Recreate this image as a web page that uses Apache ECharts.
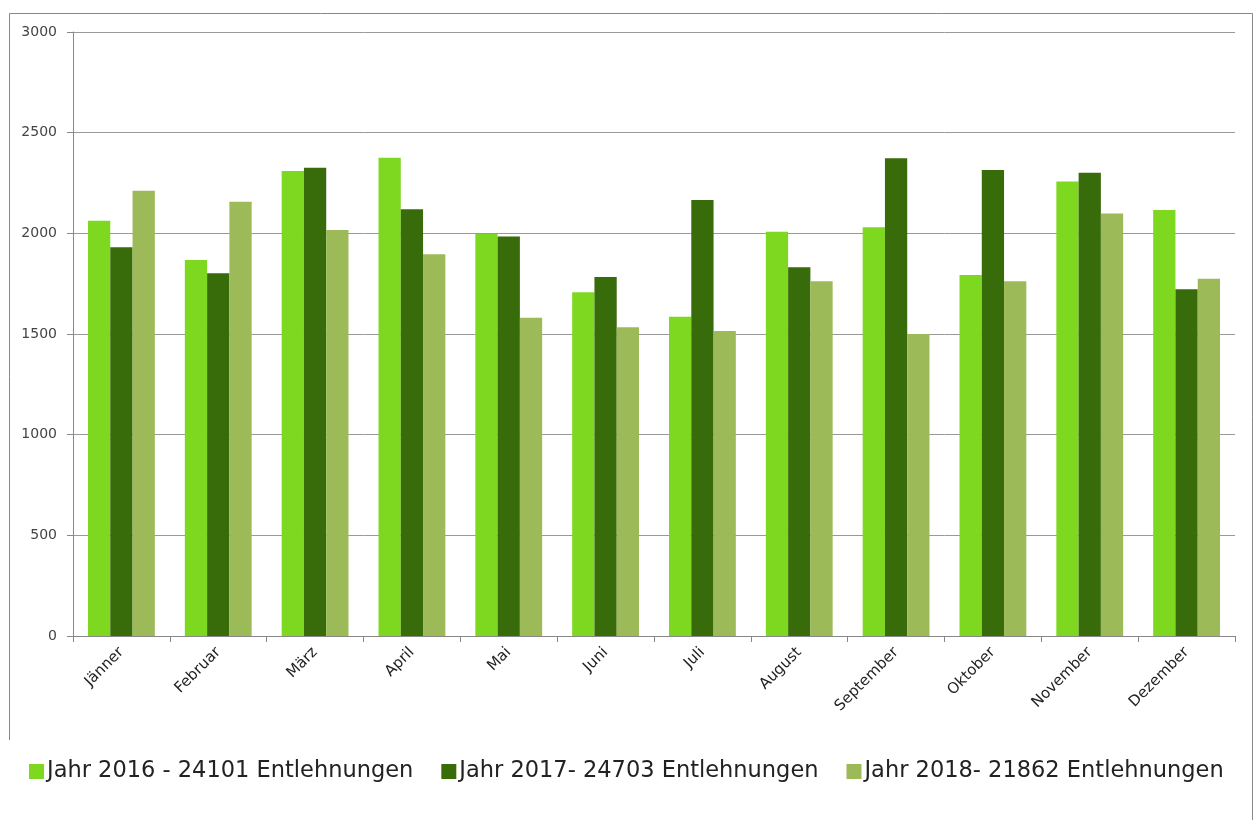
<!DOCTYPE html>
<html>
<head>
<meta charset="utf-8">
<script src="https://cdn.jsdelivr.net/npm/echarts@6/dist/echarts.min.js"></script>
<style>
html,body{margin:0;padding:0;background:#fff;}
#chart{width:1255px;height:820px;}
</style>
</head>
<body>
<div id="chart"></div>
<script>
const months = ['Jänner','Februar','März','April','Mai','Juni','Juli','August','September','Oktober','November','Dezember'];
const seriesNames = ['Jahr 2016 - 24101 Entlehnungen','Jahr 2017- 24703 Entlehnungen','Jahr 2018- 21862 Entlehnungen'];
const y2016 = [2063,1868,2310,2376,1997,1707,1586,2008,2030,1793,2257,2116];
const y2017 = [1931,1802,2326,2120,1984,1783,2166,1831,2373,2315,2301,1722];
const y2018 = [2212,2157,2017,1896,1581,1533,1515,1762,1500,1762,2098,1775];
const yTicks = [0,500,1000,1500,2000,2500,3000];
const colors = ['#7ed81f','#386b09','#9cba58'];

const chart = echarts.init(document.getElementById('chart'));
const font = 'DejaVu Sans, Verdana, sans-serif';
chart.setOption({
  animation:false,
  backgroundColor:'#fff',
  color:colors,
  grid:{left:73,right:20,top:32,bottom:184,containLabel:false},
  legend:{
    data:seriesNames,
    left:24, top:755,
    itemWidth:15, itemHeight:15, itemGap:28,
    icon:'rect',
    textStyle:{fontFamily:font,fontSize:22.5,color:'#222',padding:[0,0,0,-2]}
  },
  xAxis:{
    type:'category',
    data:months,
    axisLine:{lineStyle:{color:'#888',width:1}},
    axisTick:{show:true,length:6,alignWithLabel:false,lineStyle:{color:'#888'}},
    axisLabel:{rotate:45,margin:14,fontFamily:font,fontSize:15,color:'#222',interval:0}
  },
  yAxis:{
    type:'value',
    min:yTicks[0], max:yTicks[yTicks.length-1], interval:500,
    axisLine:{show:true,lineStyle:{color:'#888',width:1}},
    axisTick:{show:true,length:6,lineStyle:{color:'#888'}},
    axisLabel:{margin:16,fontFamily:font,fontSize:14,color:'#444',formatter:function(v){return String(v);}},
    splitLine:{lineStyle:{color:'#999',width:1}}
  },
  series:[
    {name:seriesNames[0],type:'bar',data:y2016,barGap:'0%',barCategoryGap:'31%'},
    {name:seriesNames[1],type:'bar',data:y2017,barGap:'0%',barCategoryGap:'31%'},
    {name:seriesNames[2],type:'bar',data:y2018,barGap:'0%',barCategoryGap:'31%'}
  ],
  graphic:[
    {type:'polyline',shape:{points:[[9.5,740],[9.5,13.5],[1252.5,13.5],[1252.5,820]]},style:{stroke:'#888',lineWidth:1,fill:null},silent:true}
  ]
});
</script>
</body>
</html>
